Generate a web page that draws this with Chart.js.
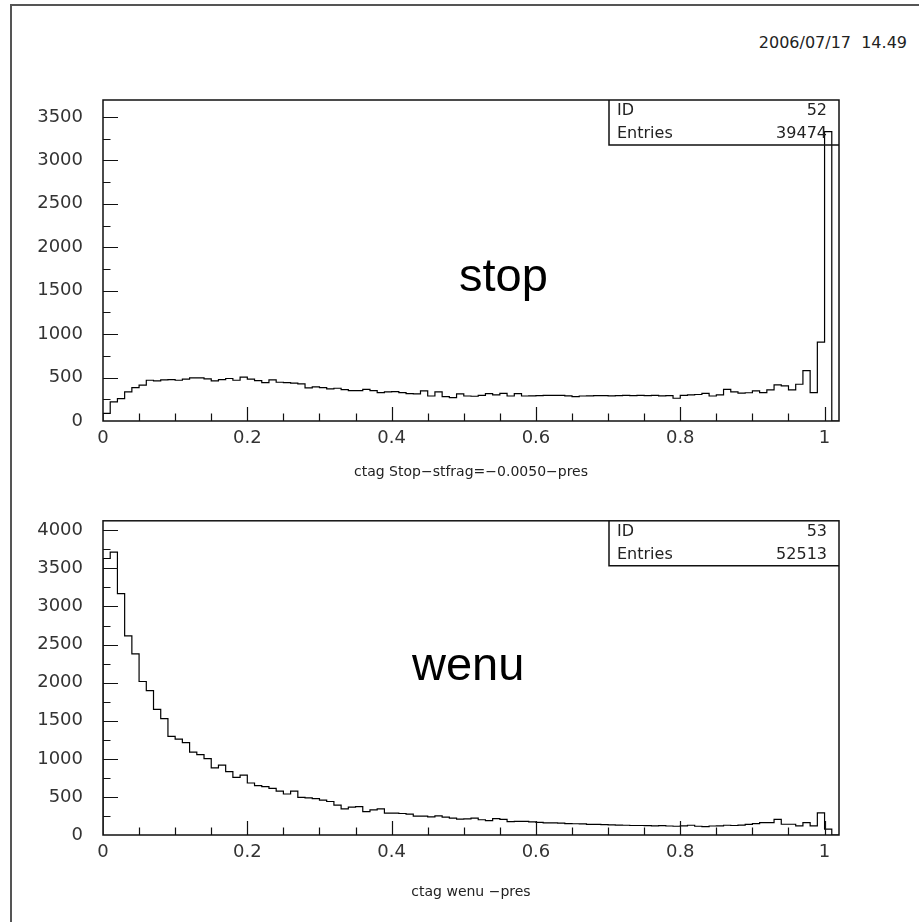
<!DOCTYPE html>
<html>
<head>
<meta charset="utf-8">
<script src="https://cdn.jsdelivr.net/npm/chart.js@4.4.1/dist/chart.umd.min.js"></script>
<style>
    body { margin: 0; background: #fff; }
    #page { position: relative; width: 919px; height: 922px; overflow: hidden; background: #fff; }
    #page canvas { position: absolute; left: 0; }
    #frameTop { position: absolute; left: 10px; top: 4px; width: 909px; height: 2px; background: #555; }
    #frameLeft { position: absolute; left: 10px; top: 4px; width: 2px; height: 918px; background: #555; }
    #stamp { position: absolute; right: 12px; top: 33px; font: 16px "DejaVu Sans", sans-serif; color: #222; white-space: pre; }
</style>
</head>
<body>
<div id="page">
    <div id="frameTop"></div>
    <div id="frameLeft"></div>
    <div id="stamp">2006/07/17  14.49</div>
    <canvas id="stopChart" width="919" height="490" style="top:0"></canvas>
    <canvas id="wenuChart" width="919" height="432" style="top:490px"></canvas>
</div>
<script>
// Histogram binning (0 to 1.02, 102 bins)
const binLow = 0;
const binWidth = 0.01;

// Bin contents
const stopCounts = [
    88, 219, 258, 335, 385, 412, 469, 462, 473, 477,
    469, 481, 496, 496, 485, 462, 477, 489, 469, 504,
    481, 465, 442, 473, 446, 442, 435, 427, 381, 392,
    385, 369, 377, 362, 350, 350, 365, 350, 327, 335,
    338, 327, 315, 312, 346, 288, 335, 281, 269, 312,
    288, 285, 296, 315, 300, 319, 288, 315, 288, 290,
    292, 296, 296, 296, 290, 280, 288, 290, 292, 292,
    290, 292, 294, 292, 294, 292, 294, 290, 292, 262,
    296, 300, 305, 319, 288, 300, 365, 335, 320, 325,
    346, 327, 358, 415, 404, 358, 423, 581, 327, 908,
    3331, 0
];

const wenuCounts = [
    3630, 3715, 3168, 2613, 2378, 2015, 1896, 1648, 1529, 1294,
    1260, 1213, 1089, 1055, 1003, 880, 918, 833, 756, 786,
    683, 649, 636, 611, 576, 538, 576, 495, 487, 478,
    457, 440, 393, 342, 367, 372, 307, 329, 342, 286,
    286, 282, 273, 248, 248, 239, 252, 235, 222, 209,
    213, 222, 200, 190, 215, 205, 175, 180, 178, 172,
    165, 160, 160, 155, 150, 148, 145, 140, 140, 135,
    132, 130, 128, 125, 125, 122, 120, 122, 118, 115,
    120, 128, 115, 110, 118, 120, 128, 125, 130, 140,
    150, 162, 162, 205, 141, 141, 120, 162, 120, 290,
    77, 0
];

// Tick labels
const xTickValues = [0, 0.2, 0.4, 0.6, 0.8, 1];
const stopYTicks = [0, 500, 1000, 1500, 2000, 2500, 3000, 3500];
const wenuYTicks = [0, 500, 1000, 1500, 2000, 2500, 3000, 3500, 4000];

const tickFont = { family: 'DejaVu Sans', size: 18 };

function toPoints(counts) {
    const pts = [{ x: binLow, y: 0 }];
    counts.forEach((c, i) => {
        pts.push({ x: binLow + i * binWidth, y: c });
    });
    pts.push({ x: binLow + counts.length * binWidth, y: 0 });
    return pts;
}

// Frame, inward ticks, stats box and captions
const histoDecor = {
    id: 'histoDecor',
    afterDatasetsDraw(chart, args, opts) {
        const ctx = chart.ctx;
        const area = chart.chartArea;
        const xs = chart.scales.x;
        const ys = chart.scales.y;

        ctx.save();
        ctx.strokeStyle = '#111';
        ctx.lineWidth = 1.5;
        ctx.strokeRect(area.left, area.top, area.right - area.left, area.bottom - area.top);

        // x ticks, pointing up into the plot
        ctx.lineWidth = 1.2;
        ctx.beginPath();
        for (let k = 1; k * 0.05 <= xs.max + 1e-9; k++) {
            const v = k * 0.05;
            const px = Math.round(xs.getPixelForValue(v)) + 0.5;
            const major = k % 4 === 0;
            ctx.moveTo(px, area.bottom);
            ctx.lineTo(px, area.bottom - (major ? 14 : 7.5));
        }
        // y ticks, pointing right into the plot
        for (let k = 1; k * 250 <= ys.max; k++) {
            const v = k * 250;
            const py = Math.round(ys.getPixelForValue(v)) + 0.5;
            const major = k % 2 === 0;
            ctx.moveTo(area.left, py);
            ctx.lineTo(area.left + (major ? 15 : 7.5), py);
        }
        ctx.stroke();

        // statistics box
        const boxLeft = area.right - 230;
        const boxBottom = area.top + 45;
        ctx.lineWidth = 1.5;
        ctx.beginPath();
        ctx.moveTo(boxLeft, area.top);
        ctx.lineTo(boxLeft, boxBottom);
        ctx.lineTo(area.right, boxBottom);
        ctx.stroke();

        ctx.fillStyle = '#222';
        ctx.font = '16px "DejaVu Sans"';
        ctx.textBaseline = 'middle';
        ctx.textAlign = 'left';
        ctx.fillText('ID', boxLeft + 8, area.top + 11);
        ctx.fillText('Entries', boxLeft + 8, area.top + 34);
        ctx.textAlign = 'right';
        ctx.fillText(opts.id, area.right - 12, area.top + 11);
        ctx.fillText(opts.entries, area.right - 12, area.top + 34);

        // big label
        ctx.fillStyle = '#000';
        ctx.font = '47px "Liberation Sans", Arial';
        ctx.textAlign = 'center';
        ctx.textBaseline = 'alphabetic';
        ctx.fillText(opts.label, xs.getPixelForValue(opts.labelX), ys.getPixelForValue(opts.labelY));

        // caption under the axis
        ctx.fillStyle = '#222';
        ctx.font = '14px "DejaVu Sans"';
        ctx.textBaseline = 'middle';
        ctx.fillText(opts.caption, (area.left + area.right) / 2, area.bottom + opts.captionOffset);
        ctx.restore();
    }
};

function makeHistogram(canvasId, counts, yMax, yTicks, padTop, decor) {
    const canvas = document.getElementById(canvasId);
    return new Chart(canvas, {
        type: 'line',
        data: {
            datasets: [{
                data: toPoints(counts),
                stepped: 'before',
                borderColor: '#000',
                borderWidth: 1.2,
                pointRadius: 0,
                fill: false
            }]
        },
        options: {
            responsive: false,
            animation: false,
            devicePixelRatio: 1,
            layout: { padding: { top: padTop, right: 80, left: 0, bottom: 0 } },
            plugins: {
                legend: { display: false },
                tooltip: { enabled: false },
                histoDecor: decor
            },
            scales: {
                x: {
                    type: 'linear',
                    min: binLow,
                    max: binLow + counts.length * binWidth,
                    grid: { display: false, drawTicks: false },
                    border: { display: false },
                    afterBuildTicks: s => { s.ticks = xTickValues.map(v => ({ value: v })); },
                    afterFit: s => { s.height = canvas.height - padTop - decor.plotHeight; },
                    ticks: {
                        autoSkip: false,
                        maxRotation: 0,
                        padding: 7,
                        color: '#333',
                        font: tickFont,
                        callback: v => String(Math.round(v * 10) / 10)
                    }
                },
                y: {
                    min: 0,
                    max: yMax,
                    grid: { display: false, drawTicks: false },
                    border: { display: false },
                    afterBuildTicks: s => { s.ticks = yTicks.map(v => ({ value: v })); },
                    afterFit: s => { s.width = 103; },
                    ticks: {
                        padding: 20,
                        color: '#333',
                        font: tickFont,
                        callback: v => String(v)
                    }
                }
            }
        },
        plugins: [histoDecor]
    });
}

makeHistogram('stopChart', stopCounts, 3695, stopYTicks, 100, {
    id: '52', entries: '39474', label: 'stop', labelX: 0.555, labelY: 1500,
    caption: 'ctag Stop\u2212stfrag=\u22120.0050\u2212pres', captionOffset: 51, plotHeight: 321
});

makeHistogram('wenuChart', wenuCounts, 4125, wenuYTicks, 23, {
    id: '53', entries: '52513', label: 'wenu', labelX: 0.506, labelY: 2030,
    caption: 'ctag wenu \u2212pres', captionOffset: 57, plotHeight: 322
});
</script>
</body>
</html>
